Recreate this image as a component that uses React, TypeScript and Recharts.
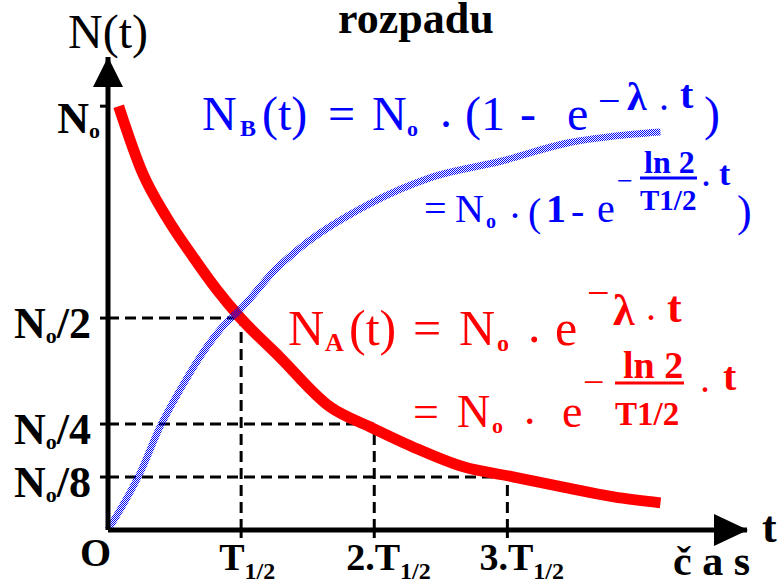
import { LineChart, Line, XAxis, YAxis, ReferenceLine, ReferenceDot } from "recharts";

// time in units of T1/2, amount as a fraction of N0
const redT = [0.08, 0.26, 0.44, 0.64, 0.82, 0.99, 1.29, 1.67, 1.97, 2.29, 2.67, 3.05, 3.42, 3.8, 4.15];
const redN = [1.0, 0.842, 0.738, 0.644, 0.566, 0.502, 0.408, 0.29, 0.243, 0.196, 0.149, 0.125, 0.101, 0.078, 0.064];

const blueT = [0, 0.09, 0.24, 0.39, 0.54, 0.69, 0.84, 0.99, 1.27, 1.44, 1.95, 2.44, 2.95, 3.45, 3.95, 4.15];
const blueN = [0, 0.047, 0.134, 0.243, 0.33, 0.408, 0.472, 0.519, 0.618, 0.665, 0.767, 0.833, 0.87, 0.913, 0.934, 0.939];

const yTicks = [0.125, 0.25, 0.5, 1];
const yTickSuffix = ["/8", "/4", "/2", ""];
const xTicks = [1, 2, 3];
const xTickPrefix = ["", "2.", "3."];
const guideN = [0.5, 0.25, 0.125];

const xMax = 4.8;
const yMax = 1.116;

const serif = '"Liberation Serif", "DejaVu Serif", "Times New Roman", serif';
const serifStyle = { fontFamily: serif };

const redData = redT.map((t, i) => ({ t, n: redN[i] }));
const blueData = blueT.map((t, i) => ({ t, n: blueN[i] }));

function YTick({ x, y, payload }: any) {
  const i = yTicks.indexOf(payload.value);
  const suffix = yTickSuffix[i];
  return (
    <text x={suffix ? x - 7 : x + 2} y={y + (suffix ? 20 : 27)} textAnchor="end" style={serifStyle} fontSize={44} fontWeight="bold" fill="#000">
      N<tspan fontSize={22} dy={5}>o</tspan>
      <tspan dy={-5}>{suffix}</tspan>
    </text>
  );
}

function XTick({ x, y, payload }: any) {
  const i = xTicks.indexOf(payload.value);
  const prefix = xTickPrefix[i];
  return (
    <text x={x - (prefix ? 28 : 22)} y={y + 30} style={serifStyle} fontSize={38} fontWeight="bold" fill="#000">
      {prefix}T<tspan fontSize={24} dy={9}>1/2</tspan>
    </text>
  );
}

const xArrow = (p: any) => (
  <polygon points={`${p.cx + 1},${p.cy} ${p.cx - 33},${p.cy - 16} ${p.cx - 33},${p.cy + 16}`} fill="#000" />
);
const yArrow = (p: any) => (
  <polygon points={`${p.cx},${p.cy} ${p.cx - 15},${p.cy + 30} ${p.cx + 15},${p.cy + 30}`} fill="#000" />
);

function Annotations() {
  return (
    <svg width={783} height={584} style={{ position: "absolute", left: 0, top: 0, pointerEvents: "none" }}>
      <g style={serifStyle}>
        <text x={338} y={33} fontSize={44} fontWeight="bold">rozpadu</text>
        <text x={68} y={48} fontSize={48}>N(t)</text>
        <text x={80} y={566} fontSize={40} fontWeight="bold">O</text>
        <text x={762} y={542} fontSize={44} fontWeight="bold">t</text>
        <text x={673} y={575} fontSize={42} fontWeight="bold">č a s</text>

        {/* N_B(t) */}
        <text fill="#0000ff" fontSize={48}>
          <tspan x={202} y={130}>N</tspan>
          <tspan x={240} y={136} fontSize={24} fontWeight="bold">B</tspan>
          <tspan x={262} y={130}>(t)</tspan>
          <tspan x={328} y={130}>=</tspan>
          <tspan x={372} y={130}>N</tspan>
          <tspan x={407} y={136} fontSize={22} fontWeight="bold">o</tspan>
          <tspan x={440} y={127}>.</tspan>
          <tspan x={465} y={130}>(1</tspan>
          <tspan x={520} y={130}>-</tspan>
          <tspan x={567} y={130}>e</tspan>
          <tspan x={598} y={114} fontSize={40}>−</tspan>
          <tspan x={627} y={110} fontSize={40} fontWeight="bold">λ</tspan>
          <tspan x={659} y={110} fontSize={40}>.</tspan>
          <tspan x={680} y={108} fontSize={40} fontWeight="bold">t</tspan>
          <tspan x={704} y={130}>)</tspan>
        </text>
        <text fill="#0000ff" fontSize={40}>
          <tspan x={424} y={222}>=</tspan>
          <tspan x={455} y={222}>N</tspan>
          <tspan x={486} y={228} fontSize={20} fontWeight="bold">o</tspan>
          <tspan x={510} y={218}>.</tspan>
          <tspan x={528} y={226}>(</tspan>
          <tspan x={546} y={222} fontWeight="bold">1</tspan>
          <tspan x={571} y={224}>-</tspan>
          <tspan x={597} y={222}>e</tspan>
          <tspan x={617} y={190} fontSize={28}>−</tspan>
          <tspan x={644} y={173} fontSize={32} fontWeight="bold">ln 2</tspan>
          <tspan x={640} y={210} fontSize={29} fontWeight="bold">T1/2</tspan>
          <tspan x={701} y={186}>.</tspan>
          <tspan x={719} y={185} fontSize={34} fontWeight="bold">t</tspan>
          <tspan x={737} y={226} fontSize={44}>)</tspan>
        </text>
        <line x1={640} x2={697} y1={178} y2={178} stroke="#0000ff" strokeWidth={3} />

        {/* N_A(t) */}
        <text fill="#ff0000" fontSize={50}>
          <tspan x={288} y={345}>N</tspan>
          <tspan x={325} y={351} fontSize={26} fontWeight="bold">A</tspan>
          <tspan x={349} y={345}>(t)</tspan>
          <tspan x={413} y={345}>=</tspan>
          <tspan x={459} y={345}>N</tspan>
          <tspan x={497} y={351} fontSize={24} fontWeight="bold">o</tspan>
          <tspan x={528} y={342}>.</tspan>
          <tspan x={555} y={345}>e</tspan>
          <tspan x={587} y={306} fontSize={40}>−</tspan>
          <tspan x={613} y={325} fontSize={44} fontWeight="bold">λ</tspan>
          <tspan x={646} y={320} fontSize={40}>.</tspan>
          <tspan x={667} y={322} fontSize={44} fontWeight="bold">t</tspan>
        </text>
        <text fill="#ff0000" fontSize={46}>
          <tspan x={413} y={427}>=</tspan>
          <tspan x={457} y={427}>N</tspan>
          <tspan x={492} y={433} fontSize={22} fontWeight="bold">o</tspan>
          <tspan x={524} y={424}>.</tspan>
          <tspan x={562} y={427}>e</tspan>
          <tspan x={583} y={395} fontSize={38}>−</tspan>
          <tspan x={623} y={378} fontSize={38} fontWeight="bold">ln 2</tspan>
          <tspan x={615} y={425} fontSize={33} fontWeight="bold">T1/2</tspan>
          <tspan x={700} y={392} fontSize={40}>.</tspan>
          <tspan x={723} y={390} fontSize={40} fontWeight="bold">t</tspan>
        </text>
        <line x1={615} x2={684} y1={383} y2={383} stroke="#ff0000" strokeWidth={3} />
      </g>
    </svg>
  );
}

export default function App() {
  return (
    <div style={{ position: "absolute", left: 0, top: 0, width: 783, height: 584, background: "#fff" }}>
      <svg width={0} height={0} style={{ position: "absolute" }}>
        <defs>
          <pattern id="checker" patternUnits="userSpaceOnUse" width={2} height={2}>
            <rect x={0} y={0} width={1} height={1} fill="#0000ff" shapeRendering="crispEdges" />
            <rect x={1} y={1} width={1} height={1} fill="#0000ff" shapeRendering="crispEdges" />
          </pattern>
        </defs>
      </svg>
      <LineChart width={783} height={584} margin={{ top: 57, right: 36, bottom: 4, left: 8 }}>
        <XAxis
          type="number"
          dataKey="t"
          domain={[0, xMax]}
          ticks={xTicks}
          tick={<XTick />}
          tickSize={8}
          height={50}
          axisLine={{ stroke: "#000", strokeWidth: 5 }}
          tickLine={{ stroke: "#000", strokeWidth: 3 }}
        />
        <YAxis
          type="number"
          dataKey="n"
          domain={[0, yMax]}
          ticks={yTicks}
          tick={<YTick />}
          tickSize={8}
          width={100}
          axisLine={{ stroke: "#000", strokeWidth: 5 }}
          tickLine={{ stroke: "#000", strokeWidth: 3 }}
        />
        {xTicks.map((t, i) => (
          <ReferenceLine
            key={"h" + t}
            segment={[{ x: 0, y: guideN[i] }, { x: t, y: guideN[i] }]}
            stroke="#000"
            strokeWidth={3}
            strokeDasharray="11 6"
          />
        ))}
        {xTicks.map((t, i) => (
          <ReferenceLine
            key={"v" + t}
            segment={[{ x: t, y: 0 }, { x: t, y: guideN[i] }]}
            stroke="#000"
            strokeWidth={3}
            strokeDasharray="11 6"
          />
        ))}
        <Line
          data={redData}
          dataKey="n"
          type="monotone"
          stroke="#ff0000"
          strokeWidth={11}
          dot={false}
          activeDot={false}
          isAnimationActive={false}
        />
        <Line
          data={blueData}
          dataKey="n"
          type="monotone"
          stroke="url(#checker)"
          strokeWidth={7}
          dot={false}
          activeDot={false}
          isAnimationActive={false}
        />
        <ReferenceDot x={xMax} y={0} r={0} ifOverflow="visible" shape={xArrow} />
        <ReferenceDot x={0} y={yMax} r={0} ifOverflow="visible" shape={yArrow} />
      </LineChart>
      <Annotations />
    </div>
  );
}
